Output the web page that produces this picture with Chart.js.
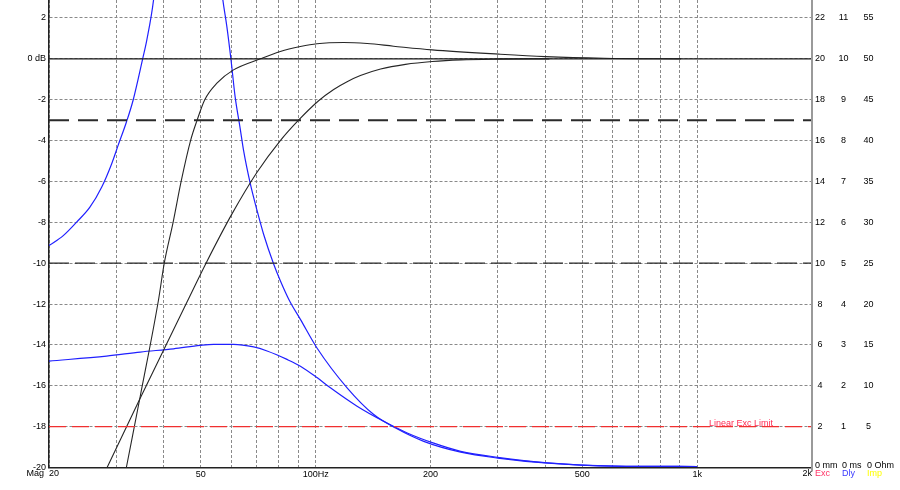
<!DOCTYPE html>
<html><head><meta charset="utf-8">
<script src="https://cdn.jsdelivr.net/npm/chart.js@4.4.1/dist/chart.umd.min.js"></script>
<style>html,body{margin:0;padding:0;background:#fff;}#wrap{width:900px;height:490px;position:relative;}</style>
</head><body><div id="wrap"><canvas id="c" width="900" height="490"></canvas></div>
<script>
// ---------- data ----------
const freqTicks = [20,30,40,50,60,70,80,90,100,200,300,400,500,600,700,800,900,1000,2000];
const freqLabels = {50:'50',100:'100Hz',200:'200',500:'500',1000:'1k'};
const magTicks = [-20,-18,-16,-14,-12,-10,-8,-6,-4,-2,0,2];
const excTicks = [22,20,18,16,14,12,10,8,6,4,2];
const dlyTicks = [11,10,9,8,7,6,5,4,3,2,1];
const impTicks = [55,50,45,40,35,30,25,20,15,10,5];

// steep black response
const freqA = [28,31.9,34.7,38.7,40.1,42.3,44.4,47.0,48.9,51.2,55.1,60.9,71.6,80.8,91.2,100.8,118.4,136.4,160,202,302,400,570,906];
const magA  = [-25.5,-20,-16.5,-11.84,-10,-8,-6,-4,-3,-2,-1.19,-0.54,0,0.36,0.6,0.74,0.80,0.75,0.62,0.44,0.23,0.11,0.03,0];
// gentle black response
const freqB = [25,28.4,34.7,46.0,51.6,60.3,70.2,80.8,90.2,101.8,111.5,120.9,131,148,172,202,240,300,410];
const magB  = [-22.2,-20,-16.6,-11.9,-10.0,-7.6,-5.55,-4.0,-3.0,-2.05,-1.5,-1.12,-0.82,-0.5,-0.27,-0.13,-0.05,-0.015,0];
// blue curve with peak off the top
const freqC = [20,21.8,23.6,25.6,27.5,29.2,30.4,31.9,33.2,35.2,36.1,37.6,40,43,46,50,54,57.1,58.5,60.0,61.5,63.4,64.7,67.4,70.2,73.0,77.6,80.8,85.4,91.2,100.8,120.9,142,162,192,240,300,406,606,1000];
const magC  = [-9.14,-8.65,-8.0,-7.26,-6.27,-5.13,-4.2,-3.1,-2.05,0,0.93,2.9,8,12,13,11.5,7,2.9,1.59,-0.05,-1.85,-3.4,-4.47,-6.11,-7.42,-8.57,-10.04,-10.86,-11.84,-12.75,-14.15,-16.1,-17.41,-18.07,-18.72,-19.25,-19.54,-19.79,-19.93,-19.95];
// lower blue curve
const freqD = [20,28.3,34.7,42.4,49.8,54.0,60.9,68.8,74.6,84.1,91.2,100.8,109.3,128.4,150.8,173.8,204,240,300,406,606,1000];
const magD  = [-14.79,-14.55,-14.35,-14.19,-14.02,-13.97,-13.97,-14.1,-14.3,-14.71,-15.04,-15.6,-16.1,-17.0,-17.74,-18.31,-18.81,-19.21,-19.5,-19.77,-19.93,-19.95];

// reference levels (dB)
const levelZero = 0, levelMinus3 = -3, levelMinus10 = -10, excLimit = -18;

// ---------- helpers ----------
const pts = (f, m) => f.map((v, i) => ({x: v, y: m[i]}));
const hline = v => [{x: 20, y: v}, {x: 2000, y: v}];
const FONT = '"Liberation Sans", Arial, sans-serif';

const rightCols = [
  {ticks: excTicks, unit: 'mm', name: 'Exc', color: '#ff3366', cx: 820, start: 815, toDb: v => v - 20},
  {ticks: dlyTicks, unit: 'ms', name: 'Dly', color: '#3a3aff', cx: 843.5, start: 842, toDb: v => v * 2 - 20},
  {ticks: impTicks, unit: 'Ohm', name: 'Imp', color: '#ffff00', cx: 868.5, start: 867, toDb: v => v * 0.4 - 20}
];

const overlay = {
  id: 'overlay',
  afterDraw(chart) {
    const {ctx, chartArea: a, scales: {x, y}} = chart;
    ctx.save();
    // right axis line
    ctx.strokeStyle = '#9a9a9a'; ctx.lineWidth = 2;
    ctx.beginPath(); ctx.moveTo(a.right, 0); ctx.lineTo(a.right, a.bottom + 4); ctx.stroke();

    ctx.font = '9px ' + FONT;
    ctx.textBaseline = 'middle';
    rightCols.forEach(c => {
      ctx.fillStyle = '#000';
      ctx.textAlign = 'center';
      c.ticks.forEach(v => ctx.fillText(String(v), c.cx, y.getPixelForValue(c.toDb(v))));
      ctx.textAlign = 'left';
      ctx.fillText('0 ' + c.unit, c.start, y.getPixelForValue(c.toDb(0)) - 1.5);
      ctx.fillStyle = c.color;
      ctx.fillText(c.name, c.start, 474);
    });
    // x end labels
    ctx.fillStyle = '#000';
    ctx.textAlign = 'left';
    ctx.fillText('20', x.getPixelForValue(20), 473.5);
    ctx.textAlign = 'right';
    ctx.fillText('Mag', x.getPixelForValue(20) - 5, 473.5);
    ctx.fillText('2k', x.getPixelForValue(2000), 473.5);
    // exc limit label
    ctx.fillStyle = '#ff2d55';
    ctx.textAlign = 'left';
    ctx.textBaseline = 'alphabetic';
    ctx.fillText('Linear Exc Limit', 709, y.getPixelForValue(excLimit) - 1);
    ctx.restore();
  }
};

const lineDs = (data, color, width, dash, extra) => Object.assign({
  data, borderColor: color, borderWidth: width, borderDash: dash || [],
  pointRadius: 0, showLine: true, fill: false
}, extra || {});

new Chart(document.getElementById('c'), {
  type: 'scatter',
  data: {
    datasets: [
      lineDs(hline(levelZero), '#1a1a1a', 1.2),
      lineDs(hline(levelMinus3), '#2a2a2a', 2, [20, 9]),
      lineDs(hline(levelMinus10), '#2a2a2a', 1.3, [20, 6]),
      lineDs(hline(excLimit), '#f03030', 1.3, [17, 6]),
      lineDs(pts(freqB, magB), '#262626', 1.1, [], {cubicInterpolationMode: 'monotone'}),
      lineDs(pts(freqA, magA), '#262626', 1.1, [], {cubicInterpolationMode: 'monotone'}),
      lineDs(pts(freqD, magD), '#2020ff', 1.2, [], {cubicInterpolationMode: 'monotone'}),
      lineDs(pts(freqC, magC), '#2020ff', 1.2, [], {cubicInterpolationMode: 'monotone'})
    ]
  },
  options: {
    responsive: false,
    animation: false,
    devicePixelRatio: 1,
    layout: {padding: {left: 0, right: 88, top: 0, bottom: 0}},
    plugins: {legend: {display: false}, tooltip: {enabled: false}},
    scales: {
      x: {
        type: 'logarithmic', min: 20, max: 2000,
        afterBuildTicks: s => { s.ticks = freqTicks.map(v => ({value: v})); },
        afterFit: s => { s.height = 22.5; s.paddingLeft = 0; s.paddingRight = 0; },
        grid: {color: '#8a8a8a', lineWidth: 1, drawTicks: false},
        border: {display: true, color: '#222', width: 1.5, dash: [3, 2]},
        ticks: {
          autoSkip: false, maxRotation: 0, minRotation: 0, padding: 1.5,
          color: '#000', font: {family: FONT, size: 9},
          callback: v => freqLabels[v] || ''
        }
      },
      y: {
        type: 'linear', min: -20, max: 2.88,
        afterBuildTicks: s => { s.ticks = magTicks.map(v => ({value: v})); },
        afterFit: s => { s.width = 49; s.paddingTop = 0; s.paddingBottom = 0; },
        grid: {color: '#8a8a8a', lineWidth: 1, drawTicks: false},
        border: {display: true, color: '#222', width: 1.5, dash: [3, 2]},
        ticks: {
          padding: 3, color: '#000', font: {family: FONT, size: 9},
          callback: v => v === 0 ? '0 dB' : String(v)
        }
      }
    }
  },
  plugins: [overlay]
});
</script>
</body></html>
